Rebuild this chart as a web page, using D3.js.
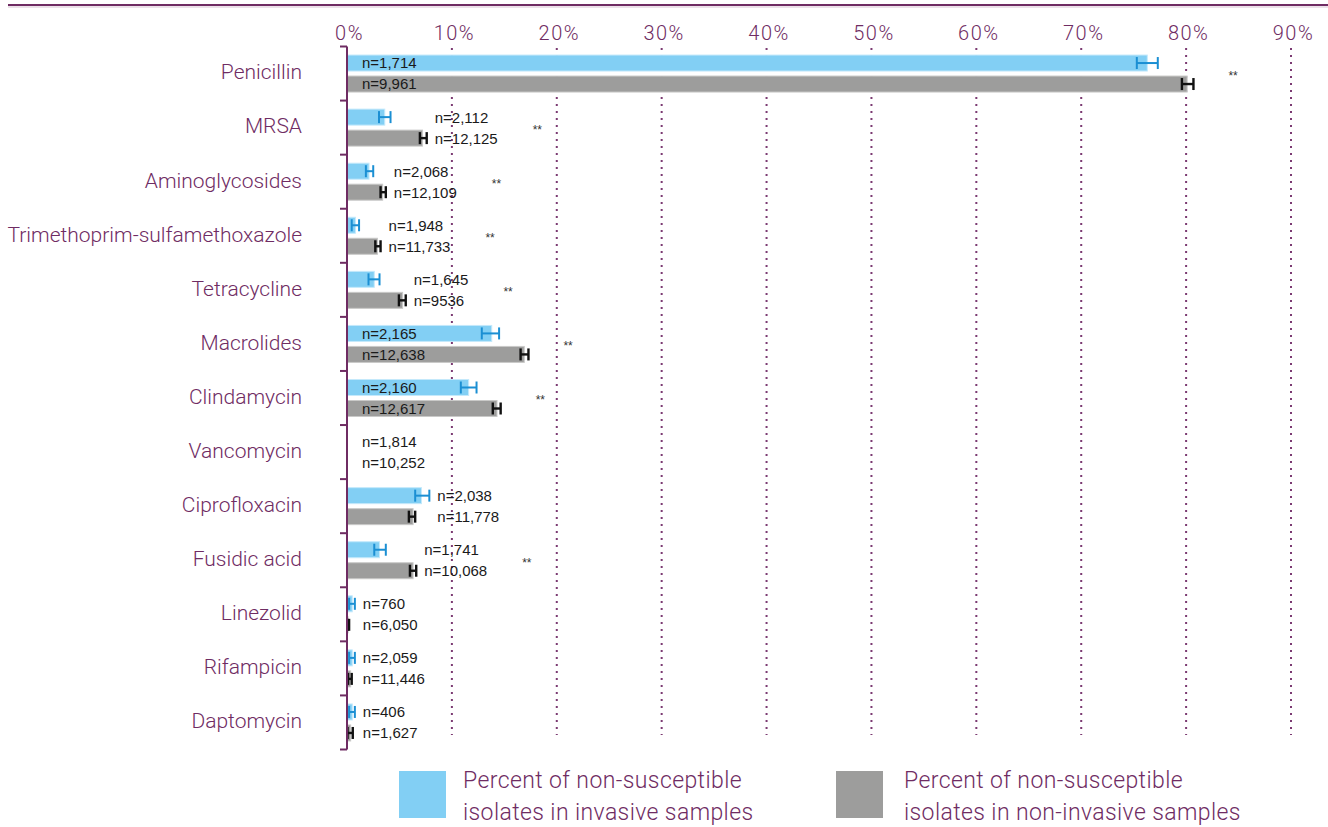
<!DOCTYPE html>
<html><head><meta charset="utf-8">
<script src="https://cdn.jsdelivr.net/npm/d3@7"></script>
<style>
html,body{margin:0;padding:0;background:#fff;}
svg{display:block;}
</style></head>
<body>
<svg id="chart" width="1328" height="827"></svg>
<script>
const categories = ["Penicillin","MRSA","Aminoglycosides","Trimethoprim-sulfamethoxazole","Tetracycline","Macrolides","Clindamycin","Vancomycin","Ciprofloxacin","Fusidic acid","Linezolid","Rifampicin","Daptomycin"];
const invasive      = [76.3, 3.6, 2.1, 0.8, 2.6, 13.8, 11.6, 0, 7.1, 3.1, 0.5, 0.5, 0.5];
const invasiveLo    = [75.3, 3.05, 1.8, 0.45, 2.05, 12.85, 10.85, null, 6.5, 2.6, 0.2, 0.2, 0.2];
const invasiveHi    = [77.3, 4.15, 2.5, 1.15, 3.1, 14.5, 12.35, null, 7.85, 3.7, 0.75, 0.75, 0.75];
const nonInvasive   = [80.1, 7.2, 3.4, 2.9, 5.3, 16.9, 14.3, 0, 6.3, 6.3, 0.1, 0.35, 0.35];
const nonInvasiveLo = [79.6, 6.95, 3.2, 2.7, 4.95, 16.55, 13.9, null, 5.9, 6.0, 0.05, 0.1, 0.05];
const nonInvasiveHi = [80.7, 7.6, 3.7, 3.2, 5.6, 17.3, 14.65, null, 6.5, 6.6, 0.2, 0.45, 0.55];
const nInvasive     = ["1,714","2,112","2,068","1,948","1,645","2,165","2,160","1,814","2,038","1,741","760","2,059","406"];
const nNonInvasive  = ["9,961","12,125","12,109","11,733","9536","12,638","12,617","10,252","11,778","10,068","6,050","11,446","1,627"];
const significant   = [true,true,true,true,true,true,true,false,false,true,false,false,false];
const xTicks = [0,10,20,30,40,50,60,70,80,90];
const legendLabels = [["Percent of non-susceptible","isolates in invasive samples"],["Percent of non-susceptible","isolates in non-invasive samples"]];

const PURPLE = "#6f2c63";
const BLUE = "#82cff4", GRAY = "#9d9d9c";
const BLUE_ERR = "#1b8fd3", GRAY_ERR = "#111111";
const labelFont = "Roboto, 'Liberation Sans', sans-serif";
const nFont = "'Liberation Sans', Arial, sans-serif";

const svg = d3.select("#chart");
const x = d3.scaleLinear().domain([0,90]).range([347,1291]);
const y = d3.scaleBand().domain(categories).range([46.5,749.5]);
const bh = 16, off = 10.5;

// top rule
svg.append("line").attr("x1",8).attr("x2",1328).attr("y1",5).attr("y2",5)
  .attr("stroke",PURPLE).attr("stroke-width",2);
svg.append("line").attr("x1",8).attr("x2",1328).attr("y1",7).attr("y2",7)
  .attr("stroke","#d9c3d3").attr("stroke-width",1);

// gridlines
svg.append("g").selectAll("line").data(xTicks.filter(d=>d>0)).join("line")
  .attr("x1",d=>x(d)).attr("x2",d=>x(d)).attr("y1",48).attr("y2",735)
  .attr("stroke","#7b3a72").attr("stroke-width",2).attr("stroke-dasharray","2,5");

// top axis labels
const ax = svg.append("g").attr("transform","translate(0,40)")
  .call(d3.axisTop(x).tickValues(xTicks).tickFormat(d=>d+"%").tickSize(0).tickPadding(0));
ax.select(".domain").remove();
ax.selectAll("text").attr("fill",PURPLE).style("font-family",labelFont).style("font-weight",300)
  .style("font-size","20px").style("letter-spacing","1.5px").attr("dx","2");

// category labels
svg.append("g").selectAll("text").data(categories).join("text")
  .attr("x",302).attr("y",d=>y(d)+y.bandwidth()/2-1.5).attr("dy","0.35em")
  .attr("text-anchor","end").attr("fill",PURPLE)
  .style("font-family",labelFont).style("font-weight",300).style("font-size","21px")
  .text(d=>d);

// bars
const rows = categories.map((c,i)=>({c,i}));
const g = svg.append("g");
function drawSeries(vals, lo, hi, fill, edge, errColor, errW, sign){
  g.append("g").selectAll("rect").data(rows.filter(r=>vals[r.i]>0)).join("rect")
    .attr("x",x(0)).attr("width",r=>x(vals[r.i])-x(0))
    .attr("y",r=>y(r.c)+y.bandwidth()/2+sign*off-bh/2).attr("height",bh)
    .attr("fill",fill).attr("stroke",edge).attr("stroke-width",1);
  const eg = g.append("g").attr("stroke",errColor).attr("stroke-width",errW).attr("fill","none");
  rows.filter(r=>lo[r.i]!=null).forEach(r=>{
    const cy = y(r.c)+y.bandwidth()/2+sign*off;
    const x1 = x(lo[r.i]), x2 = x(hi[r.i]);
    eg.append("line").attr("x1",x1).attr("x2",x2).attr("y1",cy).attr("y2",cy);
    eg.append("line").attr("x1",x1).attr("x2",x1).attr("y1",cy-6).attr("y2",cy+6);
    eg.append("line").attr("x1",x2).attr("x2",x2).attr("y1",cy-6).attr("y2",cy+6);
  });
}
drawSeries(invasive, invasiveLo, invasiveHi, BLUE, "#c4e9fb", BLUE_ERR, 2, -1);
drawSeries(nonInvasive, nonInvasiveLo, nonInvasiveHi, GRAY, "#c9c9c8", GRAY_ERR, 2.4, 1);

// n labels and significance marks
const lg = svg.append("g").style("font-family",nFont).style("font-size","15px").attr("fill","#1a1a1a");
rows.forEach(r=>{
  const i = r.i, cy = y(r.c)+y.bandwidth()/2;
  const maxVal = Math.max(invasive[i], nonInvasive[i]);
  const errRight = Math.max(x(invasiveHi[i] ?? 0), x(nonInvasiveHi[i] ?? 0));
  const inside = maxVal > 10;
  const lx = inside ? x(0)+15 : Math.max(x(0)+15, errRight+8);
  const t1 = lg.append("text").attr("x",lx).attr("y",cy-off).attr("dy","0.36em").text("n="+nInvasive[i]);
  const t2 = lg.append("text").attr("x",lx).attr("y",cy+off).attr("dy","0.36em").text("n="+nNonInvasive[i]);
  if (significant[i]) {
    let right = Math.max(errRight, x(Math.max(invasive[i], nonInvasive[i])));
    if (!inside) right = Math.max(right, lx + t1.node().getComputedTextLength(), lx + t2.node().getComputedTextLength());
    svg.append("text").attr("x",right+35).attr("y",cy+6.3)
      .style("font-family",nFont).style("font-size","12px").attr("fill","#333").text("**");
  }
});

// left axis
const axg = svg.append("g").attr("stroke",PURPLE).attr("stroke-width",2);
axg.append("line").attr("x1",347).attr("x2",347).attr("y1",y.range()[0]).attr("y2",y.range()[1]);
const bounds = categories.map(c=>y(c)).concat([y.range()[1]]);
axg.selectAll(".tk").data(bounds).join("line").attr("class","tk")
  .attr("x1",340).attr("x2",347).attr("y1",d=>d).attr("y2",d=>d);

// legend
const leg = svg.append("g");
[[BLUE,399,463],[GRAY,836,904]].forEach((s,k)=>{
  leg.append("rect").attr("x",s[1]).attr("y",771).attr("width",47).attr("height",47).attr("fill",s[0]);
  legendLabels[k].forEach((t,j)=>{
    leg.append("text").attr("x",s[2]).attr("y",788+j*32).attr("fill",PURPLE)
      .style("font-family",labelFont).style("font-weight",300).style("font-size","23px")
      .style("letter-spacing","0.4px").text(t);
  });
});
</script>
</body></html>
